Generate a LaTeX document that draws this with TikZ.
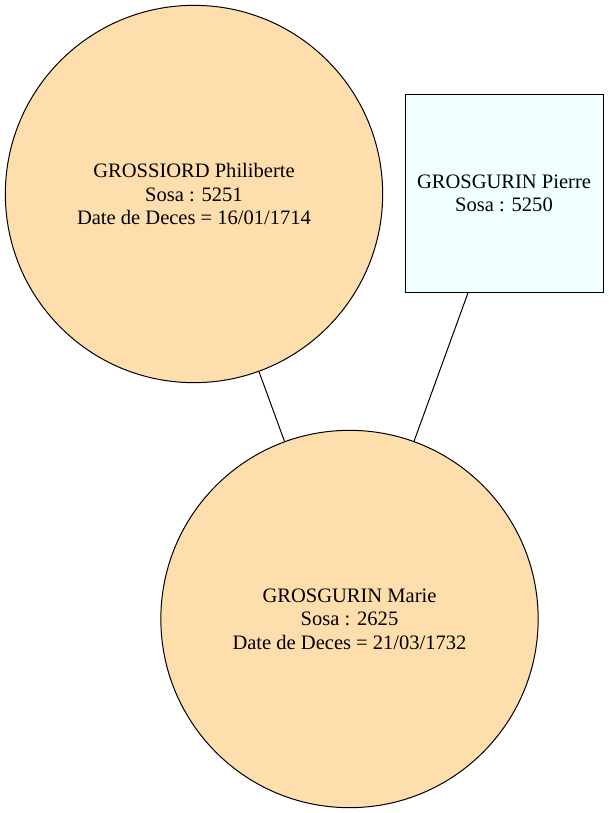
\documentclass[tikz,border=0pt]{standalone}
\usepackage{fontspec}
\setmainfont{Liberation Serif}
\definecolor{navajo}{HTML}{FFDEAD}
\definecolor{azurefill}{HTML}{F0FFFF}
\begin{document}
\begin{tikzpicture}[x=0.75pt,y=-0.75pt,
    person/.style={draw,line width=0.75pt,align=center,inner sep=0pt,
      font=\fontsize{15.4}{17.6}\selectfont},
    woman/.style={person,circle,fill=navajo,minimum size=283pt},
    man/.style={person,rectangle,fill=azurefill,minimum width=148.5pt,minimum height=147.75pt}]
  \useasboundingbox (0,0) rectangle (609,813);
  \node [woman] (philiberte) at (194,194) {GROSSIORD Philiberte\\Sosa : 5251\\Date de Deces = 16/01/1714};
  \node [man] (pierre) at (504,193.5) {GROSGURIN Pierre\\Sosa : 5250};
  \node [woman] (marie) at (349.5,619) {GROSGURIN Marie\\Sosa : 2625\\Date de Deces = 21/03/1732};
  \draw [line width=0.75pt] (philiberte) -- (marie);
  \draw [line width=0.75pt] (pierre) -- (marie);
\end{tikzpicture}
\end{document}
